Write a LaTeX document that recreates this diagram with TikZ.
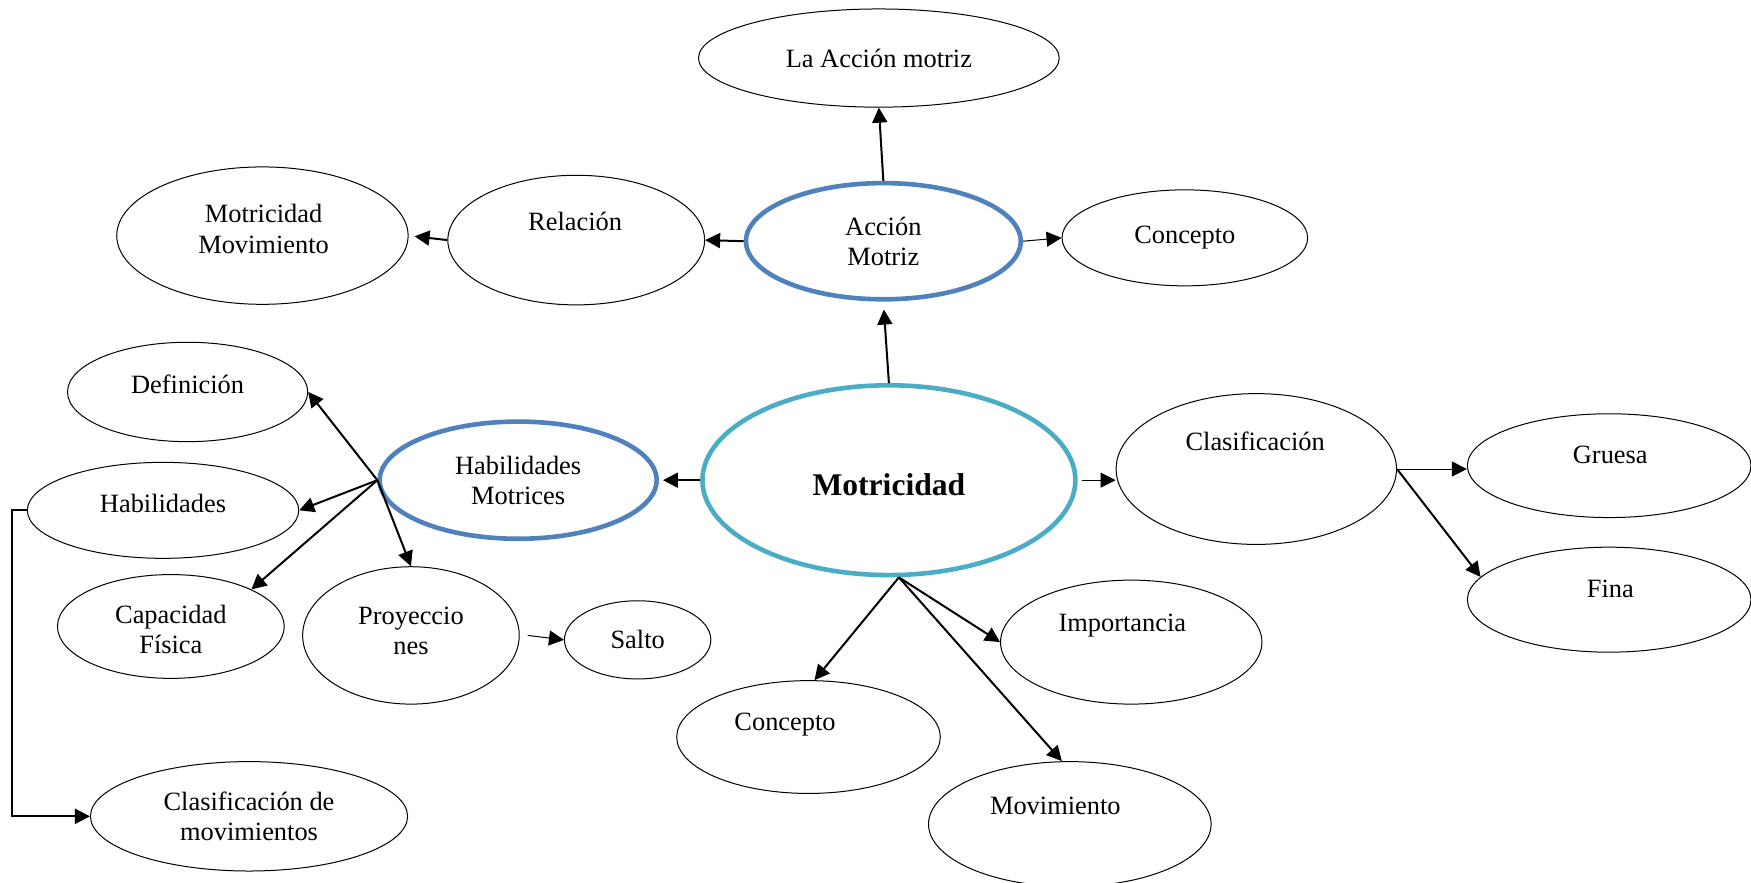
\documentclass[tikz,border=0pt]{standalone}
\usepackage{fontspec}
\setmainfont{Liberation Serif}
\usetikzlibrary{shapes.geometric,arrows.meta}

\definecolor{hmblue}{HTML}{4F81BD}
\definecolor{mcyan}{HTML}{4BACC6}

\begin{document}
\begin{tikzpicture}[x=0.5584pt,y=-0.5584pt]

\tikzset{oval/.style = {shape=ellipse,draw,line width=0.5pt,inner sep=0pt,align=center,font=\fontsize{13.2}{15.1}\selectfont}}
\tikzset{bigoval/.style = {oval,line width=2.3pt,draw=hmblue}}
\tikzset{txt/.style = {inner sep=0pt,align=center,font=\fontsize{13.2}{15.1}\selectfont}}
\tikzset{edge/.style = {-{Triangle[length=7.5pt,width=7.5pt]},line width=1pt}}
\tikzset{thinedge/.style = {edge,line width=0.5pt}}

\useasboundingbox (0,0) rectangle (1568,790);

% ellipses
\node[oval,minimum width=180.4pt,minimum height=49.1pt] (laacc) at (787,52) {La Acción motriz};
\node[bigoval,minimum width=137.4pt,minimum height=58.1pt] (accion) at (791,216) {Acción\\Motriz};
\node[oval,minimum width=128.4pt,minimum height=64.8pt] (relac) at (516,215) {};
\node[oval,minimum width=145.7pt,minimum height=68.7pt] (motmov) at (235,211) {};
\node[oval,minimum width=122.8pt,minimum height=48pt] (conc1) at (1061,213) {Concepto};
\node[bigoval,draw=mcyan,minimum width=186.5pt,minimum height=94.9pt] (motri) at (796,430) {};
\node[bigoval,minimum width=138.5pt,minimum height=58.6pt] (hmot) at (464,430) {Habilidades\\Motrices};
\node[oval,minimum width=120.1pt,minimum height=49.7pt] (defi) at (168,351) {};
\node[oval,minimum width=135.7pt,minimum height=48pt] (habi) at (146,457) {};
\node[oval,minimum width=113.4pt,minimum height=51.9pt] (capa) at (153,561) {};
\node[oval,minimum width=108.3pt,minimum height=68.7pt] (proy) at (368,569) {};
\node[oval,minimum width=73.2pt,minimum height=39.1pt] (salto) at (571,573) {Salto};
\node[oval,minimum width=158.6pt,minimum height=54.7pt] (clasmov) at (223,731) {Clasificación de\\movimientos};
\node[oval,minimum width=140.2pt,minimum height=75.4pt] (clas) at (1125,420) {};
\node[oval,minimum width=141.8pt,minimum height=51.9pt] (gruesa) at (1441,417) {};
\node[oval,minimum width=141.8pt,minimum height=52.5pt] (fina) at (1441,537) {};
\node[oval,minimum width=130.7pt,minimum height=62pt] (imp) at (1013,575) {};
\node[oval,minimum width=131.8pt,minimum height=56.4pt] (con2) at (724,660) {};
\node[oval,minimum width=141.3pt,minimum height=62.5pt] (mov) at (958,738) {};

% texts set off centre
\node[txt,font=\fontsize{15.8}{18}\selectfont\bfseries] (motri-t) at (796,434) {Motricidad};
\node[txt] (relac-t) at (515,198) {Relación};
\node[txt] (motmov-t) at (236,205) {Motricidad\\Movimiento};
\node[txt] (defi-t) at (168,344) {Definición};
\node[txt] (habi-t) at (146,451) {Habilidades};
\node[txt] (capa-t) at (153,564) {Capacidad\\Física};
\node[txt] (proy-t) at (368,565) {Proyeccio\\nes};
\node[txt] (clas-t) at (1124,395) {Clasificación};
\node[txt] (gruesa-t) at (1442,407) {Gruesa};
\node[txt] (fina-t) at (1442,527) {Fina};
\node[txt] (imp-t) at (1005,560) {Importancia};
\node[txt] (con2-t) at (703,649) {Concepto};
\node[txt] (mov-t) at (945,722) {Movimiento};

% arrows
\draw[edge,shorten >=4pt] (motri.north) -- (accion.south);
\draw[edge] (accion.north) -- (laacc.south);
\draw[edge] (accion.west) -- (relac.east);
\draw[edge,shorten >=3pt] (relac.west) -- (motmov.east);
\draw[thinedge] (accion.east) -- (conc1.west);
\draw[edge,shorten >=2pt] (motri.west) -- (hmot.east);
\draw[thinedge] ([xshift=2pt]motri.east) -- (motri.east -| clas.west);
\draw[thinedge] (clas.east) -- (clas.east -| gruesa.west);
\draw[edge] (clas.east) -- (fina.170);
\coordinate (ms) at ([xshift=5pt]motri.south);
\draw[edge] (ms) -- ([xshift=3pt]con2.north);
\draw[edge] (ms) -- (imp.west);
\draw[edge] (ms) -- ([xshift=-4pt]mov.north);
\draw[edge] (hmot.west) -- (defi.east);
\draw[edge] (hmot.west) -- (habi.east);
\draw[edge] (hmot.west) -- (capa.north east);
\draw[edge] (hmot.west) -- (proy.north);
\draw[thinedge] ([xshift=4pt]proy.east) -- (salto.west);
\draw[edge] (habi.west) -- ++(-13,0) |- (clasmov.west);

\end{tikzpicture}
\end{document}
